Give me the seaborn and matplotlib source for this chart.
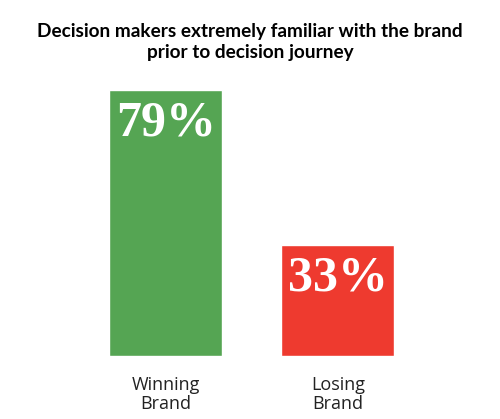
import matplotlib
matplotlib.use("Agg")
import matplotlib.pyplot as plt
import seaborn as sns
import pandas as pd

categories = ["Winning\nBrand", "Losing\nBrand"]
values = [79, 33]
labels = ["79%", "33%"]
colors = ["#55A553", "#EE3A2F"]
title = "Decision makers extremely familiar with the brand\nprior to decision journey"

sns.set_theme(style="white")
plt.rcParams['font.family'] = ['Lato', 'DejaVu Sans']

df = pd.DataFrame({"cat": categories, "val": values})

fig = plt.figure(figsize=(5, 4.19), dpi=100)
ax = fig.add_axes([0, 0.150, 1, 0.635])
sns.barplot(data=df, x="cat", y="val", hue="cat", palette=colors, width=0.657,
            legend=False, ax=ax, saturation=1)
ax.set_ylim(0, 79)
ax.set_xlim(-0.965, 1.942)
for s in ax.spines.values():
    s.set_visible(False)
ax.set_yticks([])
ax.set_xlabel("")
ax.set_ylabel("")
ax.tick_params(axis="x", length=0, pad=14)
for t in ax.get_xticklabels():
    t.set_fontsize(13)
    t.set_family(['Open Sans', 'DejaVu Sans'])
    t.set_color("#222222")
    t.set_linespacing(1.1)

for i, (v, lab) in enumerate(zip(values, labels)):
    ax.annotate(lab, xy=(i, v), xytext=(0, -24), textcoords="offset points",
                ha="center", va="center", color="white", fontsize=36,
                fontweight="bold", fontfamily='Liberation Serif')

fig.text(0.5, 0.9, title, ha="center", va="center", fontsize=13.7,
         fontweight="bold", color="black", linespacing=1.25)

fig.savefig("out.png", dpi=100)
